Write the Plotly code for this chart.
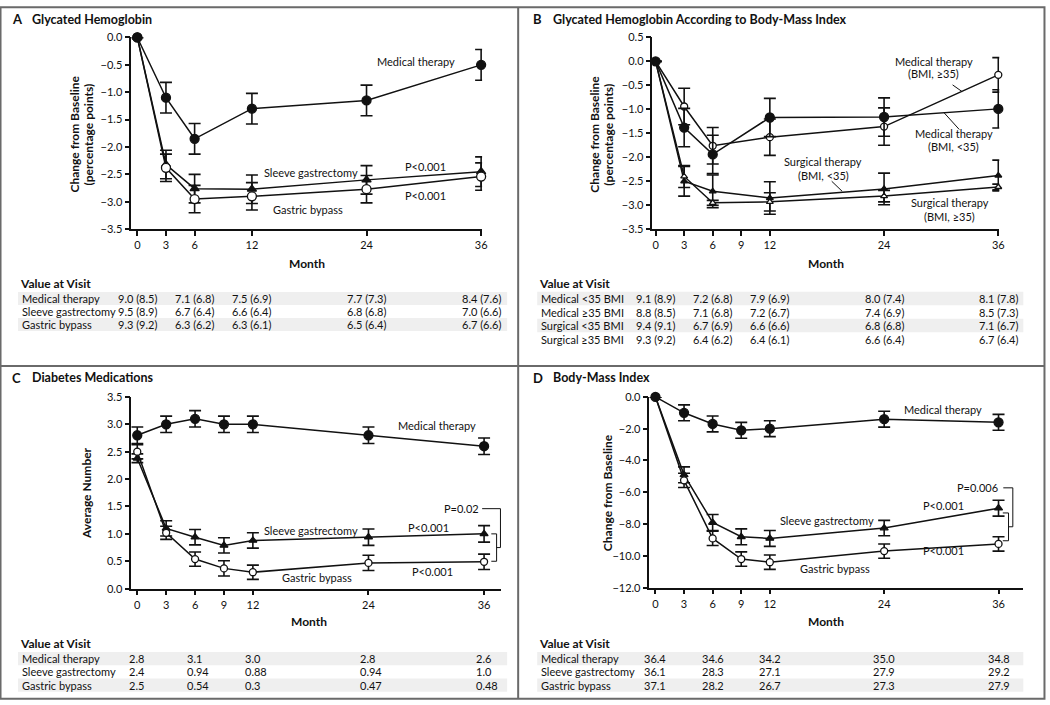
import plotly.graph_objects as go

W, H = 1050, 705
FONT = "Lato"
BLACK = "#111111"
FS = 11  # annotation font size

# ---------------- DATA ----------------
months_a = [0, 3, 6, 12, 24, 36]
a_medical = [0, -1.1, -1.85, -1.3, -1.15, -0.5]
a_medical_se = [None, 0.28, 0.28, 0.28, 0.28, 0.28]
a_sleeve = [0, -2.32, -2.76, -2.77, -2.6, -2.45]
a_sleeve_se = [None, 0.26, 0.26, 0.26, 0.26, 0.27]
a_bypass = [0, -2.38, -2.95, -2.9, -2.77, -2.54]
a_bypass_se = [None, 0.25, 0.25, 0.25, 0.25, 0.25]

months_b = [0, 3, 6, 12, 24, 36]
b_med_lt35 = [0, -1.38, -1.94, -1.17, -1.16, -0.99]
b_med_lt35_se = [None, 0.4, 0.4, 0.4, 0.4, 0.4]
b_med_ge35 = [0, -0.94, -1.76, -1.58, -1.36, -0.28]
b_med_ge35_se = [None, 0.38, 0.38, 0.38, 0.39, 0.36]
b_surg_lt35 = [0, -2.5, -2.71, -2.85, -2.66, -2.38]
b_surg_lt35_se = [None, 0.31, 0.34, 0.34, 0.33, 0.32]
b_surg_ge35 = [0, -2.4, -2.95, -2.93, -2.81, -2.62]
b_surg_ge35_se = [None, 0.23, 0.05, 0.19, 0.12, 0.06]

months_c = [0, 3, 6, 9, 12, 24, 36]
c_medical = [2.8, 3.0, 3.1, 3.0, 3.0, 2.8, 2.6]
c_medical_se = [0.15, 0.15, 0.15, 0.15, 0.15, 0.15, 0.15]
c_sleeve = [2.38, 1.1, 0.94, 0.79, 0.88, 0.94, 1.0]
c_sleeve_se = [0.08, 0.14, 0.14, 0.14, 0.14, 0.15, 0.15]
c_bypass = [2.5, 1.02, 0.54, 0.37, 0.3, 0.47, 0.49]
c_bypass_se = [0.13, 0.12, 0.13, 0.14, 0.13, 0.14, 0.14]

months_d = [0, 3, 6, 9, 12, 24, 36]
d_medical = [0, -1.0, -1.7, -2.1, -2.0, -1.4, -1.6]
d_medical_se = [None, 0.5, 0.5, 0.5, 0.5, 0.5, 0.5]
d_sleeve = [0, -4.9, -7.9, -8.8, -8.9, -8.25, -7.0]
d_sleeve_se = [None, 0.5, 0.5, 0.5, 0.5, 0.48, 0.5]
d_bypass = [0, -5.25, -8.9, -10.2, -10.4, -9.7, -9.25]
d_bypass_se = [None, 0.45, 0.45, 0.45, 0.45, 0.45, 0.45]

ticks_a = [0, 3, 6, 12, 24, 36]
ticks_bcd = [0, 3, 6, 9, 12, 24, 36]

table_months = [0, 6, 12, 24, 36]
table_a_rows = ["Medical therapy", "Sleeve gastrectomy", "Gastric bypass"]
table_a_vals = [
    ["9.0 (8.5)", "7.1 (6.8)", "7.5 (6.9)", "7.7 (7.3)", "8.4 (7.6)"],
    ["9.5 (8.9)", "6.7 (6.4)", "6.6 (6.4)", "6.8 (6.8)", "7.0 (6.6)"],
    ["9.3 (9.2)", "6.3 (6.2)", "6.3 (6.1)", "6.5 (6.4)", "6.7 (6.6)"],
]
table_b_rows = ["Medical <35 BMI", "Medical ≥35 BMI", "Surgical <35 BMI", "Surgical ≥35 BMI"]
table_b_vals = [
    ["9.1 (8.9)", "7.2 (6.8)", "7.9 (6.9)", "8.0 (7.4)", "8.1 (7.8)"],
    ["8.8 (8.5)", "7.1 (6.8)", "7.2 (6.7)", "7.4 (6.9)", "8.5 (7.3)"],
    ["9.4 (9.1)", "6.7 (6.9)", "6.6 (6.6)", "6.8 (6.8)", "7.1 (6.7)"],
    ["9.3 (9.2)", "6.4 (6.2)", "6.4 (6.1)", "6.6 (6.4)", "6.7 (6.4)"],
]
table_c_rows = ["Medical therapy", "Sleeve gastrectomy", "Gastric bypass"]
table_c_vals = [
    ["2.8", "3.1", "3.0", "2.8", "2.6"],
    ["2.4", "0.94", "0.88", "0.94", "1.0"],
    ["2.5", "0.54", "0.3", "0.47", "0.48"],
]
table_d_rows = ["Medical therapy", "Sleeve gastrectomy", "Gastric bypass"]
table_d_vals = [
    ["36.4", "34.6", "34.2", "35.0", "34.8"],
    ["36.1", "28.3", "27.1", "27.9", "29.2"],
    ["37.1", "28.2", "26.7", "27.3", "27.9"],
]

# page-to-photo compensation (observed offset/scale of the rendered page)
OX, SX = 2.0, 0.993
OY, SY = 7.5, 0.983


# ---------------- HELPERS ----------------
def px(x):
    return min(max(((x - OX) / SX) / W, 0.0005), 0.9995)


def py(y):
    return 1 - min(max(((y - OY) / SY) / H, 0.0005), 0.9995)


def series(x, y, se, xa, ya, symbol, size, fill):
    return go.Scatter(
        x=x, y=y, mode="lines+markers", xaxis=xa, yaxis=ya,
        line=dict(color=BLACK, width=1.5),
        marker=dict(symbol=symbol, size=size, color=fill,
                    line=dict(color=BLACK, width=1.3)),
        error_y=dict(type="data", array=se, symmetric=True, color=BLACK,
                     thickness=1.6, width=6),
        cliponaxis=False, showlegend=False, hoverinfo="skip",
    )


fig = go.Figure()

# Panel A
fig.add_trace(series(months_a, a_sleeve, a_sleeve_se, "x", "y", "triangle-up", 8, BLACK))
fig.add_trace(series(months_a, a_bypass, a_bypass_se, "x", "y", "circle", 9, "white"))
fig.add_trace(series(months_a, a_medical, a_medical_se, "x", "y", "circle", 9, BLACK))
# Panel B
fig.add_trace(series(months_b, b_surg_lt35, b_surg_lt35_se, "x2", "y2", "triangle-up", 6, BLACK))
fig.add_trace(series(months_b, b_surg_ge35, b_surg_ge35_se, "x2", "y2", "triangle-up", 6, "white"))
fig.add_trace(series(months_b, b_med_ge35, b_med_ge35_se, "x2", "y2", "circle", 7, "white"))
fig.add_trace(series(months_b, b_med_lt35, b_med_lt35_se, "x2", "y2", "circle", 9, BLACK))
# Panel C
fig.add_trace(series(months_c, c_sleeve, c_sleeve_se, "x3", "y3", "triangle-up", 7, BLACK))
fig.add_trace(series(months_c, c_bypass, c_bypass_se, "x3", "y3", "circle", 7, "white"))
fig.add_trace(series(months_c, c_medical, c_medical_se, "x3", "y3", "circle", 9, BLACK))
# Panel D
fig.add_trace(series(months_d, d_sleeve, d_sleeve_se, "x4", "y4", "triangle-up", 7, BLACK))
fig.add_trace(series(months_d, d_bypass, d_bypass_se, "x4", "y4", "circle", 7, "white"))
fig.add_trace(series(months_d, d_medical, d_medical_se, "x4", "y4", "circle", 9, BLACK))


def xaxis(d0, d1, rng, ticks, anchor):
    return dict(domain=[px(d0), px(d1)], range=rng, tickvals=ticks,
                ticks="outside", ticklen=5, tickwidth=1.5, tickcolor=BLACK,
                showline=True, linecolor=BLACK, linewidth=1.5,
                showgrid=False, zeroline=False, anchor=anchor, fixedrange=True,
                tickfont=dict(family=FONT, size=11, color=BLACK))


def yaxis(d0, d1, rng, dtick, fmt, anchor):
    return dict(domain=[py(d1), py(d0)], range=rng, dtick=dtick, tick0=0,
                tickformat=fmt, ticks="outside", ticklen=5, tickwidth=1.5,
                tickcolor=BLACK, showline=True, linecolor=BLACK, linewidth=1.5,
                showgrid=False, zeroline=False, anchor=anchor, fixedrange=True,
                tickfont=dict(family=FONT, size=11, color=BLACK))


fig.update_layout(
    width=W, height=H, autosize=False,
    margin=dict(l=0, r=0, t=0, b=0),
    paper_bgcolor="white", plot_bgcolor="white",
    font=dict(family=FONT, color=BLACK),
    xaxis=xaxis(133, 483, [-0.63, 36.1], ticks_a, "y"),
    yaxis=yaxis(38, 230, [-3.5, 0.0], 0.5, ".1f", "x"),
    xaxis2=xaxis(653, 999, [-0.33, 36.1], ticks_bcd, "y2"),
    yaxis2=yaxis(38, 230, [-3.5, 0.5], 0.5, ".1f", "x2"),
    xaxis3=xaxis(133, 502, [-0.62, 37.77], ticks_bcd, "y3"),
    yaxis3=yaxis(398, 590, [0, 3.5], 0.5, ".1f", "x3"),
    xaxis4=xaxis(650, 1023, [-0.63, 38.6], ticks_bcd, "y4"),
    yaxis4=yaxis(398, 589, [-12, 0], 2, ".1f", "x4"),
)

ann = []
shapes = []


def text(x, y, s, xref="paper", yref="paper", size=FS, bold=False,
         xanchor="center", yanchor="middle", angle=0, xshift=0):
    ann.append(dict(x=x, y=y, xref=xref, yref=yref, text=(f"<b>{s}</b>" if bold else s),
                    showarrow=False, xanchor=xanchor, yanchor=yanchor,
                    textangle=angle, xshift=xshift,
                    font=dict(family=FONT, size=size, color=BLACK)))


def seg(x0, y0, x1, y1, xref="paper", yref="paper", width=1, color=BLACK):
    shapes.append(dict(type="line", x0=x0, y0=y0, x1=x1, y1=y1, xref=xref, yref=yref,
                       line=dict(color=color, width=width)))


# Panel titles
for letter, title, lx, tx, ty in [("A", "Glycated Hemoglobin", 12, 32, 20),
                                  ("B", "Glycated Hemoglobin According to Body-Mass Index", 532, 552, 20),
                                  ("C", "Diabetes Medications", 12, 32, 379),
                                  ("D", "Body-Mass Index", 532, 552, 379)]:
    text(px(lx), py(ty), letter, size=13, bold=True, xanchor="left")
    text(px(tx), py(ty), title, size=12.5, bold=True, xanchor="left")

# Axis titles
text(px(308), py(264), "Month", size=12, bold=True)
text(px(826), py(264), "Month", size=12, bold=True)
text(px(310), py(623), "Month", size=12, bold=True)
text(px(826), py(623), "Month", size=12, bold=True)
text(px(76), py(135), "Change from Baseline", size=12, bold=True, angle=-90)
text(px(90), py(135), "(percentage points)", size=12, bold=True, angle=-90)
text(px(595), py(135), "Change from Baseline", size=12, bold=True, angle=-90)
text(px(609), py(135), "(percentage points)", size=12, bold=True, angle=-90)
text(px(89), py(494), "Average Number", size=12, bold=True, angle=-90)
text(px(608), py(494), "Change from Baseline", size=12, bold=True, angle=-90)

# Panel A labels
text(29.2, -0.44, "Medical therapy", "x", "y")
text(18.2, -2.46, "Sleeve gastrectomy", "x", "y")
text(30.2, -2.35, "P<0.001", "x", "y")
text(17.9, -3.14, "Gastric bypass", "x", "y")
text(30.2, -2.88, "P<0.001", "x", "y")

# Panel B labels
text(29.2, -0.0, "Medical therapy", "x2", "y2")
text(29.2, -0.25, "(BMI, ≥35)", "x2", "y2")
text(31.3, -1.51, "Medical therapy", "x2", "y2")
text(31.3, -1.78, "(BMI, <35)", "x2", "y2")
text(17.6, -2.09, "Surgical therapy", "x2", "y2")
text(17.6, -2.37, "(BMI, <35)", "x2", "y2")
text(30.9, -2.94, "Surgical therapy", "x2", "y2")
text(30.9, -3.24, "(BMI, ≥35)", "x2", "y2")
seg(31.2, -0.49, 32.2, -0.63, "x2", "y2")
seg(30.3, -1.07, 31.9, -1.42, "x2", "y2")
seg(18.5, -2.5, 19.6, -2.71, "x2", "y2")

# Panel C labels
text(31.1, 2.97, "Medical therapy", "x3", "y3")
text(18.0, 1.06, "Sleeve gastrectomy", "x3", "y3")
text(30.2, 1.11, "P<0.001", "x3", "y3")
text(18.7, 0.2, "Gastric bypass", "x3", "y3")
text(30.6, 0.31, "P<0.001", "x3", "y3")
text(35.7, 1.46, "P=0.02", "x3", "y3", xanchor="right")
# brackets C
seg(36.75, 1.0, 37.3, 1.0, "x3", "y3")
seg(37.3, 1.0, 37.3, 0.5, "x3", "y3")
seg(36.75, 0.5, 37.3, 0.5, "x3", "y3")
seg(35.8, 1.46, 37.7, 1.46, "x3", "y3")
seg(37.7, 1.46, 37.7, 0.75, "x3", "y3")
seg(37.3, 0.75, 37.7, 0.75, "x3", "y3")

# Panel D labels
text(30.2, -0.82, "Medical therapy", "x4", "y4")
text(36.2, -5.72, "P=0.006", "x4", "y4", xanchor="right")
text(30.2, -6.85, "P<0.001", "x4", "y4")
text(18.0, -7.79, "Sleeve gastrectomy", "x4", "y4")
text(30.2, -9.67, "P<0.001", "x4", "y4")
text(18.8, -10.8, "Gastric bypass", "x4", "y4")
# brackets D
seg(36.45, -7.3, 37.05, -7.3, "x4", "y4")
seg(37.05, -7.3, 37.05, -9.05, "x4", "y4")
seg(36.45, -9.05, 37.05, -9.05, "x4", "y4")
seg(36.5, -5.72, 37.5, -5.72, "x4", "y4")
seg(37.5, -5.72, 37.5, -8.17, "x4", "y4")
seg(37.05, -8.17, 37.5, -8.17, "x4", "y4")


# Tables
def table(rows, vals, xref, label_x, band_x0, band_x1, head_y, row_y0, row_dy,
          anchor="center", shift=0):
    text(px(label_x - 2), py(head_y), "Value at Visit", size=12, bold=True, xanchor="left")
    for i, (lab, rv) in enumerate(zip(rows, vals)):
        yy = row_y0 + i * row_dy
        if i % 2 == 0:
            shapes.append(dict(type="rect", xref="paper", yref="paper", layer="below",
                               x0=px(band_x0), x1=px(band_x1),
                               y0=py(yy - row_dy / 2), y1=py(yy + row_dy / 2),
                               fillcolor="#efefef", line=dict(width=0)))
        text(px(label_x), py(yy), lab, xanchor="left")
        for m, v in zip(table_months, rv):
            text(m, py(yy), v, xref=xref, xanchor=anchor, xshift=shift)


table(table_a_rows, table_a_vals, "x", 22, 20, 508, 284, 299.5, 13)
table(table_b_rows, table_b_vals, "x2", 540, 538, 1023, 284, 299.5, 13.5)
table(table_c_rows, table_c_vals, "x3", 22, 20, 508, 645, 660, 13.3, anchor="left", shift=-10)
table(table_d_rows, table_d_vals, "x4", 540, 538, 1023, 645, 660, 13.3)

# Panel frames
FR = "#6a6a6a"
shapes.append(dict(type="rect", xref="paper", yref="paper", x0=px(1), x1=px(1046),
                   y0=py(703), y1=py(1), line=dict(color=FR, width=2)))
seg(px(519), py(1), px(519), py(703), width=2, color=FR)
seg(px(1), py(367), px(1046), py(367), width=2, color=FR)

fig.update_layout(annotations=ann, shapes=shapes)
fig.write_html(
    "out.html",
    config={"displayModeBar": False},
    post_script="document.body.style.margin='0';document.body.style.overflow='hidden';",
)
